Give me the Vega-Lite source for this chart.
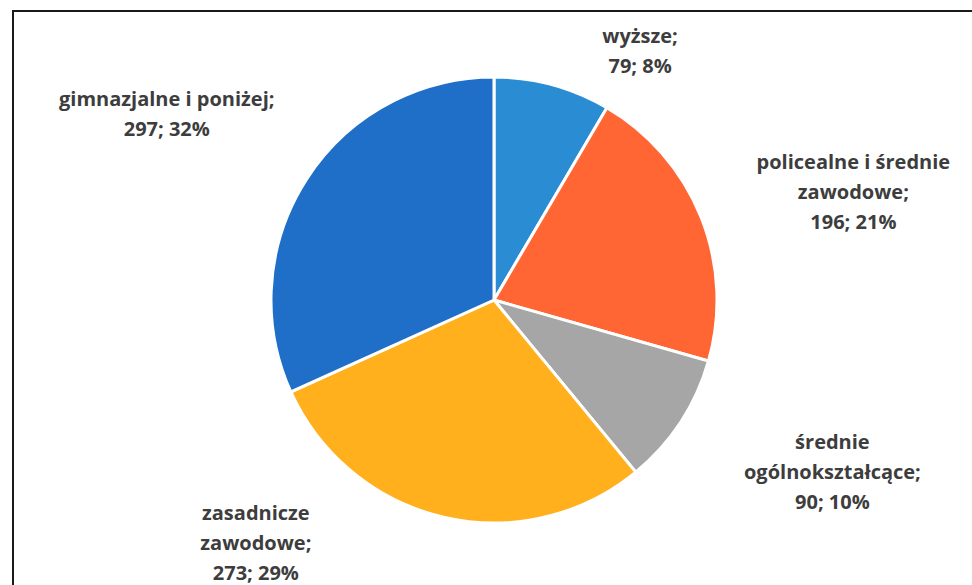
{
  "$schema": "https://vega.github.io/schema/vega-lite/v6.json",
  "autosize": {"type": "none"},
  "width": 962,
  "height": 578,
  "padding": {"left": 13, "top": 11, "right": 0, "bottom": 0},
  "background": "white",
  "view": {"stroke": "#1a1a1a", "strokeWidth": 2},
  "title": {
    "text": "Wykres 6. Bezrobotni według wykształcenia",
    "anchor": "start",
    "frame": "group",
    "font": "Liberation Sans",
    "fontStyle": "italic",
    "fontWeight": "normal",
    "fontSize": 22,
    "baseline": "alphabetic",
    "color": "#1a1a1a",
    "offset": 2,
    "dx": -31
  },
  "config": {
    "text": {"font": "Open Sans", "fontWeight": "bold", "fontSize": 20, "color": "#3d3d3d", "lineHeight": 30}
  },
  "data": {
    "values": [
      {"cat": "wyższe", "value": 79, "order": 1, "label": ["wyższe;", "79; 8%"]},
      {"cat": "policealne i średnie zawodowe", "value": 196, "order": 2, "label": ["policealne i średnie", "zawodowe;", "196; 21%"]},
      {"cat": "średnie ogólnokształcące", "value": 90, "order": 3, "label": ["średnie", "ogólnokształcące;", "90; 10%"]},
      {"cat": "zasadnicze zawodowe", "value": 273, "order": 4, "label": ["zasadnicze", "zawodowe;", "273; 29%"]},
      {"cat": "gimnazjalne i poniżej", "value": 297, "order": 5, "label": ["gimnazjalne i poniżej;", "297; 32%"]}
    ]
  },
  "layer": [
    {
      "mark": {"type": "arc", "outerRadius": 223, "stroke": "white", "strokeWidth": 3},
      "encoding": {
        "theta": {"field": "value", "type": "quantitative", "stack": true},
        "order": {"field": "order", "type": "quantitative"},
        "color": {
          "field": "cat",
          "type": "nominal",
          "legend": null,
          "scale": {
            "domain": ["wyższe", "policealne i średnie zawodowe", "średnie ogólnokształcące", "zasadnicze zawodowe", "gimnazjalne i poniżej"],
            "range": ["#2A8DD4", "#FF6633", "#A6A6A6", "#FFB01C", "#1F6FC8"]
          }
        }
      }
    },
    {
      "transform": [
        {"stack": "value", "groupby": [], "sort": [{"field": "order", "order": "ascending"}], "as": ["v0", "v1"]},
        {"filter": "datum.order === 1"}
      ],
      "mark": {"type": "text", "radius": 288, "thetaOffset": 0.532, "dy": -15},
      "encoding": {
        "theta": {"field": "v0", "type": "quantitative", "stack": null},
        "text": {"field": "label"}
      }
    },
    {
      "transform": [
        {"stack": "value", "groupby": [], "sort": [{"field": "order", "order": "ascending"}], "as": ["v0", "v1"]},
        {"filter": "datum.order === 2"}
      ],
      "mark": {"type": "text", "radius": 375, "thetaOffset": 0.75, "dy": -30},
      "encoding": {
        "theta": {"field": "v0", "type": "quantitative", "stack": null},
        "text": {"field": "label"}
      }
    },
    {
      "transform": [
        {"stack": "value", "groupby": [], "sort": [{"field": "order", "order": "ascending"}], "as": ["v0", "v1"]},
        {"filter": "datum.order === 3"}
      ],
      "mark": {"type": "text", "radius": 379, "thetaOffset": 0.19, "dy": -28},
      "encoding": {
        "theta": {"field": "v0", "type": "quantitative", "stack": null},
        "text": {"field": "label"}
      }
    },
    {
      "transform": [
        {"stack": "value", "groupby": [], "sort": [{"field": "order", "order": "ascending"}], "as": ["v0", "v1"]},
        {"filter": "datum.order === 4"}
      ],
      "mark": {"type": "text", "radius": 341, "thetaOffset": 1.462, "dy": -30},
      "encoding": {
        "theta": {"field": "v0", "type": "quantitative", "stack": null},
        "text": {"field": "label"}
      }
    },
    {
      "transform": [
        {"stack": "value", "groupby": [], "sort": [{"field": "order", "order": "ascending"}], "as": ["v0", "v1"]},
        {"filter": "datum.order === 5"}
      ],
      "mark": {"type": "text", "radius": 376, "thetaOffset": 0.94, "dy": -15},
      "encoding": {
        "theta": {"field": "v0", "type": "quantitative", "stack": null},
        "text": {"field": "label"}
      }
    }
  ]
}
